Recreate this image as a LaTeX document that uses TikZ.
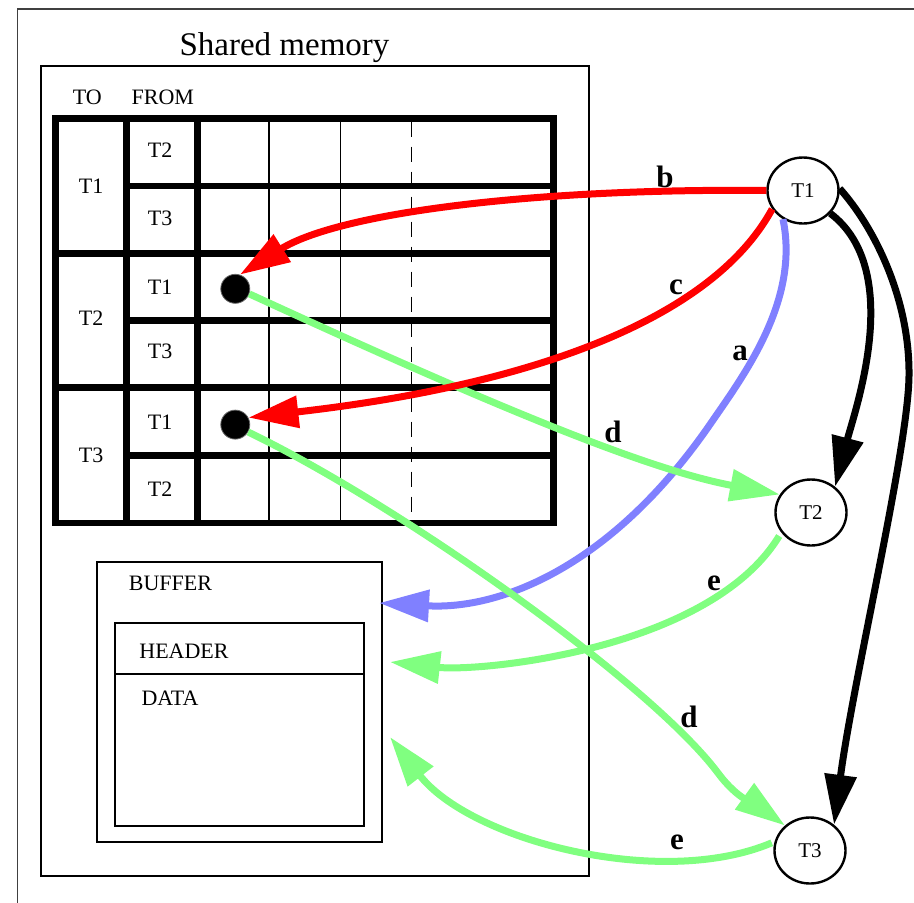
\documentclass[tikz,border=0pt]{standalone}
\usepackage{fontspec}
\setmainfont{Liberation Serif}
\usetikzlibrary{arrows.meta,shapes.geometric}
\definecolor{redC}{HTML}{FF0000}
\definecolor{blueC}{HTML}{8080FF}
\definecolor{greenC}{HTML}{80FF80}
\definecolor{frameC}{HTML}{404040}
\begin{document}
\begin{tikzpicture}[x=1pt,y=-1pt,
  lbl/.style={font=\fontsize{22}{24}\selectfont, inner sep=0pt},
  titlelbl/.style={font=\fontsize{33}{36}\selectfont, inner sep=0pt, anchor=base},
  thread/.style={ellipse, draw, line width=2.4pt, minimum width=71pt, minimum height=66pt, inner sep=0pt, font=\fontsize{21}{23}\selectfont},
  dotnode/.style={circle, fill=black, draw=black!60, line width=0.8pt, minimum size=29pt, inner sep=0pt},
  box/.style={draw, line width=1.1pt, inner sep=0pt},
  thickgrid/.style={line width=6.8pt},
  thingrid/.style={line width=1.2pt},
  conn/.style={line width=7pt, -{Triangle[length=50pt,width=31pt]}},
  tag/.style={font=\fontsize{31}{33}\selectfont\bfseries, inner sep=0pt}]
\useasboundingbox (0,0) rectangle (914,903);
% outer frame (cut by the picture edge)
\draw[line width=1.6pt, frameC] (17.5,903) -- (17.5,9) -- (914,9);
% shared memory box
\node[box, minimum width=548pt, minimum height=810pt] (shm) at (315,471) {};
\node[titlelbl] (title) at (284.5,55) {Shared memory};
% table
\draw[thickgrid] (55.2,118.3) rectangle (553.5,523);
\draw[thickgrid] (126.2,118.3) -- (126.2,523);
\draw[thickgrid] (197.4,118.3) -- (197.4,523);
\draw[thickgrid] (55.2,253.3) -- (553.5,253.3);
\draw[thickgrid] (55.2,387.7) -- (553.5,387.7);
\draw[thickgrid] (126.2,186) -- (553.5,186);
\draw[thickgrid] (126.2,320.7) -- (553.5,320.7);
\draw[thickgrid] (126.2,455.7) -- (553.5,455.7);
\draw[thingrid] (269,118.3) -- (269,523);
\draw[thingrid] (340.5,118.3) -- (340.5,523);
\draw[thingrid, dash pattern=on 15pt off 10pt] (411.6,121.7) -- (411.6,519.6);
\node[lbl] (to) at (87.3,97.5) {TO};
\node[lbl] (from) at (162.8,97.5) {FROM};
\node[lbl] (toA) at (91.2,186.5) {T1};
\node[lbl] (toB) at (91.2,318.3) {T2};
\node[lbl] (toC) at (91.2,455.5) {T3};
\node[lbl] (frA) at (160.2,150) {T2};
\node[lbl] (frB) at (160.2,218.3) {T3};
\node[lbl] (frC) at (160.2,287.7) {T1};
\node[lbl] (frD) at (160.2,351.3) {T3};
\node[lbl] (frE) at (160.2,422.2) {T1};
\node[lbl] (frF) at (160.2,489.5) {T2};
\node[dotnode] (dot1) at (235.3,288.8) {};
\node[dotnode] (dot2) at (235.3,424.6) {};
% buffer
\node[box, minimum width=285pt, minimum height=280pt] (buf) at (239.5,702) {};
\node[box, minimum width=249pt, minimum height=203pt] (inner) at (239.5,724.5) {};
\draw[line width=1.1pt] (inner.west |- 0,674) -- (inner.east |- 0,674);
\node[lbl] (buflbl) at (170.5,583) {BUFFER};
\node[lbl] (hdr) at (184,651) {HEADER};
\node[lbl] (data) at (170,698) {DATA};
% threads
\node[thread] (t1) at (803,190.5) {T1};
\node[thread] (t2) at (811,512.5) {T2};
\node[thread] (t3) at (810,850.5) {T3};
% free ends at the buffer
\coordinate (inA) at (379,603);
\coordinate (inB) at (390,662);
\coordinate (inC) at (390,737);
% connectors
\draw[conn, blueC] (t1.235) .. controls (800,300) and (744,375) .. (711,423) .. controls (612,567) and (500,610) .. (inA);
\draw[conn, greenC] (dot1.-20) .. controls (504,411) and (650,470) .. (t2.150);
\draw[conn, greenC] (dot2.-30) .. controls (400,505) and (650.5,683) .. (718,773) .. controls (738,800) and (758,806) .. (t3.135);
\draw[conn, greenC, shorten <=4pt] (t2.214) .. controls (710,650) and (480,672) .. (inB);
\draw[conn, greenC, shorten <=3pt] (t3.166) .. controls (660,890) and (470,840) .. (inC);
\draw[conn, redC] (t1.west) .. controls (540,188) and (340,212) .. (dot1.72);
\draw[conn, redC] (t1.211) .. controls (690,360) and (400,400) .. (dot2.28);
\draw[conn, black] (t1.320) .. controls (905,270) and (855,410) .. (t2.47);
\draw[conn, black] (t1.3) .. controls (875,228) and (910,300) .. (909,376) .. controls (908,450) and (853.5,678) .. (t3.47);
% labels
\node[tag] (lb) at (665,177) {b};
\node[tag] (lc) at (676,287) {c};
\node[tag] (la) at (740,353) {a};
\node[tag] (ld1) at (613,432) {d};
\node[tag] (le1) at (714,583) {e};
\node[tag] (ld2) at (689,717) {d};
\node[tag] (le2) at (677,842) {e};
\end{tikzpicture}
\end{document}
